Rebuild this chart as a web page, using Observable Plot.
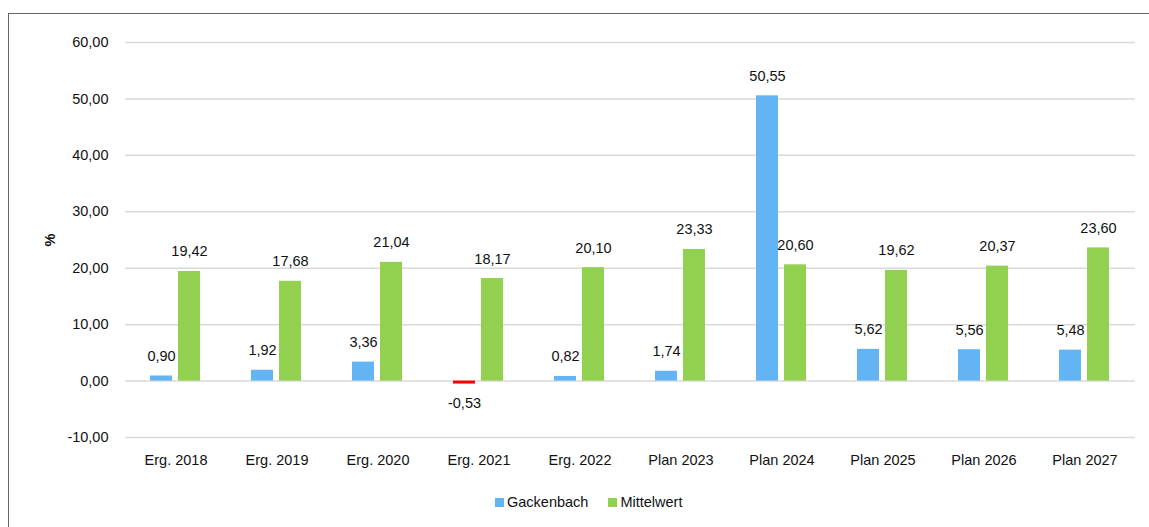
<!DOCTYPE html>
<html>
<head>
<meta charset="utf-8">
<script src="https://cdn.jsdelivr.net/npm/d3@7"></script>
<script src="https://cdn.jsdelivr.net/npm/@observablehq/plot@0.6"></script>
<style>
  html, body { margin: 0; padding: 0; background: #fff; }
  #wrap { position: relative; width: 1149px; height: 527px; overflow: hidden; font-family: "Liberation Sans", Arial, sans-serif; }
  #frame { position: absolute; left: 8px; top: 13px; width: 1300px; height: 700px; border-left: 1.5px solid #666; border-top: 1.5px solid #666; }
  #chart { position: absolute; left: 0; top: 0; }
  #legend { position: absolute; left: 495px; top: 494px; display: flex; align-items: center; font-size: 14.5px; color: #111; }
  .sw { width: 9px; height: 9px; display: inline-block; margin-right: 3px; }
  .item { display: flex; align-items: center; margin-right: 20px; }
</style>
</head>
<body>
<div id="wrap">
  <div id="frame"></div>
  <div id="chart"></div>
  <div id="legend"></div>
</div>
<script>
const categories = ["Erg. 2018", "Erg. 2019", "Erg. 2020", "Erg. 2021", "Erg. 2022", "Plan 2023", "Plan 2024", "Plan 2025", "Plan 2026", "Plan 2027"];
const seriesNames = ["Gackenbach", "Mittelwert"];
const gackenbach = [0.90, 1.92, 3.36, -0.53, 0.82, 1.74, 50.55, 5.62, 5.56, 5.48];
const mittelwert = [19.42, 17.68, 21.04, 18.17, 20.10, 23.33, 20.60, 19.62, 20.37, 23.60];
const yTicks = [-10, 0, 10, 20, 30, 40, 50, 60];
const colors = { Gackenbach: "#63b4f5", Mittelwert: "#92d050" };
const negColor = "#ff0000";

const data = [];
categories.forEach((c, i) => {
  data.push({ cat: c, series: seriesNames[0], value: gackenbach[i] });
  data.push({ cat: c, series: seriesNames[1], value: mittelwert[i] });
});
const fmt = v => v.toFixed(2).replace(".", ",");

const chart = Plot.plot({
  width: 1149,
  height: 480,
  marginLeft: 125,
  marginRight: 14,
  marginTop: 42,
  marginBottom: 43,
  style: { fontFamily: "'Liberation Sans', Arial, sans-serif", fontSize: "14.5px", color: "#111", background: "transparent" },
  fx: { domain: categories, padding: 0 },
  x: { domain: seriesNames, paddingInner: 0.207, paddingOuter: 0.845, axis: null },
  y: { domain: [-10, 60] },
  marks: [
    Plot.gridY(yTicks, { stroke: "#d9d9d9", strokeOpacity: 1, strokeWidth: 1.5 }),
    Plot.barY(data, {
      fx: "cat", x: "series", y: "value",
      fill: d => d.value < 0 ? negColor : colors[d.series]
    }),
    Plot.text(data.filter(d => d.value >= 0), {
      fx: "cat", x: "series", y: "value", text: d => fmt(d.value),
      lineAnchor: "bottom", dy: -15, fill: "#111"
    }),
    Plot.text(data.filter(d => d.value < 0), {
      fx: "cat", x: "series", y: "value", text: d => fmt(d.value),
      lineAnchor: "top", dy: 14, fill: "#111"
    }),
    Plot.axisY({ ticks: yTicks, tickFormat: fmt, tickSize: 0, tickPadding: 17, label: "%", labelAnchor: "center", labelArrow: "none", labelOffset: 81 }),
    Plot.axisFx({ anchor: "bottom", tickSize: 0, tickPadding: 17, label: null })
  ]
});
document.getElementById("chart").appendChild(chart);
chart.querySelectorAll('[aria-label="y-axis label"]').forEach(g => g.setAttribute("font-weight", "bold"));

const legend = document.getElementById("legend");
seriesNames.forEach(s => {
  const item = document.createElement("div");
  item.className = "item";
  item.innerHTML = `<span class="sw" style="background:${colors[s]}"></span><span>${s}</span>`;
  legend.appendChild(item);
});
</script>
</body>
</html>
